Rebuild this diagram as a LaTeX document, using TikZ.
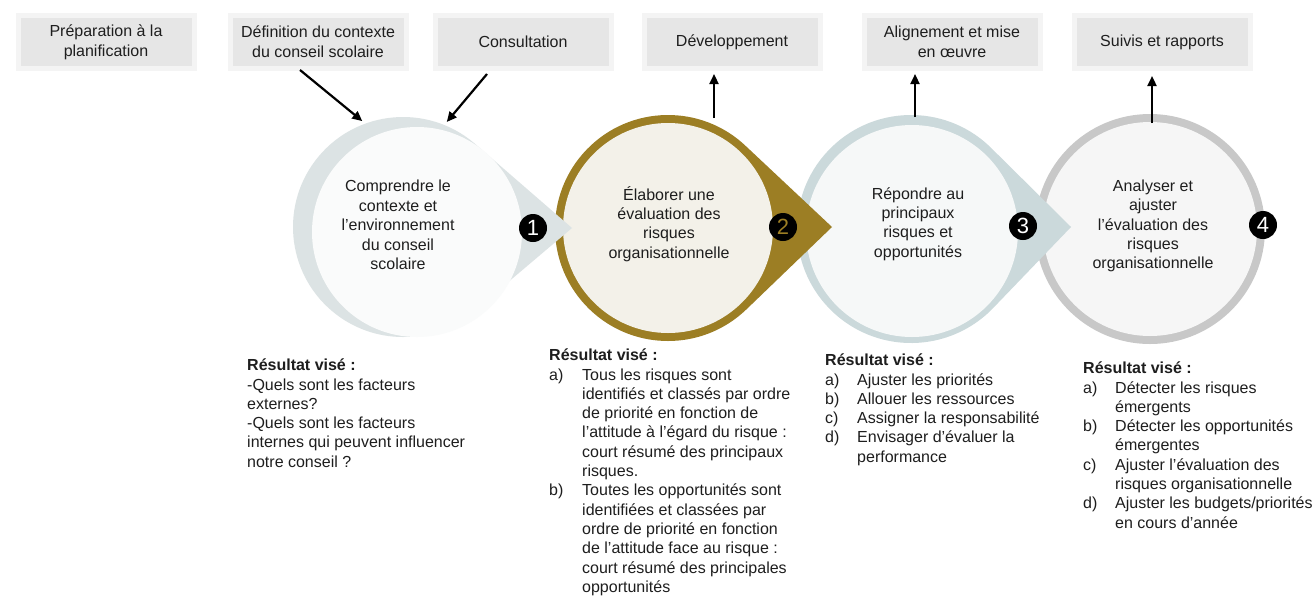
\documentclass[tikz,border=0pt]{standalone}
\usepackage{fontspec}
\setmainfont{Liberation Sans}
\usetikzlibrary{arrows.meta}
\definecolor{boxgray}{HTML}{E6E6E6}
\definecolor{textgray}{HTML}{1E1E1E}
\definecolor{ringone}{HTML}{DCE3E4}
\definecolor{innerone}{HTML}{FAFBFB}
\definecolor{gold}{HTML}{9C7E24}
\definecolor{cream}{HTML}{F3F1E9}
\definecolor{ringthree}{HTML}{CBD9DB}
\definecolor{innerthree}{HTML}{F6F8F8}
\definecolor{ringfour}{HTML}{C8C8C8}
\definecolor{innerfour}{HTML}{F6F6F6}
\begin{document}
\begin{tikzpicture}[x=1pt,y=-1pt,
  topbox/.style={fill=boxgray,draw=boxgray!45!white,line width=5pt,minimum width=176pt,minimum height=53pt,
    inner sep=2pt,align=center,font=\fontsize{16}{20}\selectfont,text=textgray},
  disc/.style={circle,inner sep=0pt,outer sep=0pt,minimum size=#1},
  steptext/.style={align=center,font=\fontsize{16}{19.4}\selectfont,text=textgray},
  badge/.style={circle,fill=black,minimum size=28pt,inner sep=0pt,text=white,font=\fontsize{22}{22}\selectfont},
  result/.style={anchor=north west,inner sep=0pt,font=\fontsize{16}{19.3}\selectfont,text=textgray},
  arr/.style={line width=2.2pt,-{Triangle[length=10pt,width=9pt]}}]
\useasboundingbox[fill=white] (0,0) rectangle (1314,595);

\node[topbox] (b1) at (106,42) {Préparation à la\\planification};
\node[topbox] (b2) at (318,42) {Définition du contexte\\du conseil scolaire};
\node[topbox] (b3) at (523,42) {Consultation};
\node[topbox] (b4) at (732,42) {Développement};
\node[topbox] (b5) at (952,42) {Alignement et mise\\en œuvre};
\node[topbox] (b6) at (1162,42) {Suivis et rapports};

\node[disc=220pt] (o1) at (403,227) {};
\node[disc=226pt] (o2) at (668,228) {};
\node[disc=228pt] (o3) at (911,229) {};
\node[disc=230pt] (o4) at (1150,229) {};

\fill[ringfour] (o4.center) circle[radius=115pt];
\node[disc=214pt,fill=innerfour] (i4) at (1150,229) {};

\fill[ringthree] (o3.44) arc[start angle=44,end angle=316,radius=114pt] -- (1071,227) -- cycle;
\node[disc=212pt,fill=innerthree] (i3) at (912,231) {};

\fill[gold] (o2.46) arc[start angle=46,end angle=314,radius=113pt] -- (832,227) -- cycle;
\node[disc=210pt,fill=cream] (i2) at (668,228) {};

\fill[ringone] (o1.50) arc[start angle=50,end angle=310,radius=110pt] -- (572,228) -- cycle;
\node[disc=210pt,fill=innerone] (i1) at (417,232) {};

\node[steptext] (t1) at (398,225) {Comprendre le\\contexte et\\l’environnement\\du conseil\\scolaire};
\node[steptext] (t2) at (669,224) {Élaborer une\\évaluation des\\risques\\organisationnelle};
\node[steptext] (t3) at (918,224) {Répondre au\\principaux\\risques et\\opportunités};
\node[steptext] (t4) at (1153,226) {Analyser et\\ajuster\\l’évaluation des\\risques\\organisationnelle};

\node[badge] (n1) at (533,228) {1};
\node[badge,text=gold] (n2) at (783,227) {2};
\node[badge] (n3) at (1023,226) {3};
\node[badge] (n4) at (1263,225) {4};

\draw[arr,shorten >=4pt] ([xshift=-18pt,yshift=1pt]b2.south) -- (o1.110);
\draw[arr,shorten >=4pt] ([xshift=-36pt,yshift=-3pt]b3.south) -- (o1.68);
\coordinate (u2) at (714,118);
\coordinate (u3) at (915,117);
\coordinate (u4) at (1152,123);
\draw[arr,shorten >=3pt] (u2) -- (u2 |- b4.south);
\draw[arr,shorten >=3pt] (u3) -- (u3 |- b5.south);
\draw[arr,shorten >=5pt] (u4) -- (u4 |- b6.south);

\node[result] (r1) at (247,357) {\begin{tabular}{@{}l@{}}
\textbf{Résultat visé :}\\
-Quels sont les facteurs\\
externes?\\
-Quels sont les facteurs\\
internes qui peuvent influencer\\
notre conseil ?
\end{tabular}};
\node[result] (r2) at (549,347) {\begin{tabular}{@{}p{33pt}@{}l@{}}
\multicolumn{2}{@{}l@{}}{\textbf{Résultat visé :}}\\
a) & Tous les risques sont\\
 & identifiés et classés par ordre\\
 & de priorité en fonction de\\
 & l’attitude à l’égard du risque :\\
 & court résumé des principaux\\
 & risques.\\
b) & Toutes les opportunités sont\\
 & identifiées et classées par\\
 & ordre de priorité en fonction\\
 & de l’attitude face au risque :\\
 & court résumé des principales\\
 & opportunités
\end{tabular}};
\node[result] (r3) at (825,352) {\begin{tabular}{@{}p{32pt}@{}l@{}}
\multicolumn{2}{@{}l@{}}{\textbf{Résultat visé :}}\\
a) & Ajuster les priorités\\
b) & Allouer les ressources\\
c) & Assigner la responsabilité\\
d) & Envisager d’évaluer la\\
 & performance
\end{tabular}};
\node[result] (r4) at (1083,360) {\begin{tabular}{@{}p{32pt}@{}l@{}}
\multicolumn{2}{@{}l@{}}{\textbf{Résultat visé :}}\\
a) & Détecter les risques\\
 & émergents\\
b) & Détecter les opportunités\\
 & émergentes\\
c) & Ajuster l’évaluation des\\
 & risques organisationnelle\\
d) & Ajuster les budgets/priorités\\
 & en cours d’année
\end{tabular}};
\end{tikzpicture}
\end{document}
